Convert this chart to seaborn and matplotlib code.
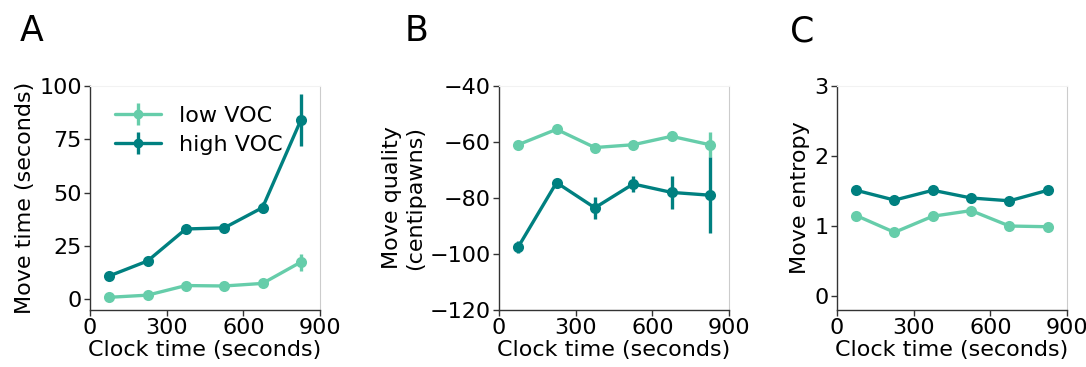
import numpy as np
import pandas as pd
import seaborn as sns
import matplotlib.pyplot as plt

clock = [75, 225, 375, 525, 675, 825]
groups = ['low VOC', 'high VOC']
colors = {'low VOC': '#66cdaa', 'high VOC': '#008080'}

# panel A: move time
time_low = [1.0, 2.0, 6.5, 6.3, 7.5, 17.5]
time_low_err = [0.8, 0.8, 1.0, 0.8, 1.2, 4.0]
time_high = [11.0, 18.0, 33.0, 33.5, 43.0, 84.0]
time_high_err = [1.0, 1.0, 1.2, 1.2, 2.5, 12.0]

# panel B: move quality
qual_low = [-61.0, -55.5, -62.0, -61.0, -58.0, -61.0]
qual_low_err = [0.8, 0.8, 1.0, 0.8, 1.0, 4.5]
qual_high = [-97.5, -74.5, -83.5, -75.0, -78.0, -79.0]
qual_high_err = [2.0, 1.0, 4.0, 3.0, 6.0, 13.5]

# panel C: move entropy
ent_low = [1.15, 0.91, 1.14, 1.22, 1.00, 0.99]
ent_low_err = [0.02, 0.02, 0.02, 0.02, 0.02, 0.02]
ent_high = [1.51, 1.37, 1.51, 1.40, 1.36, 1.51]
ent_high_err = [0.02, 0.02, 0.02, 0.02, 0.02, 0.02]

sns.set_style('white')
plt.rcParams['font.family'] = ['DejaVu Sans']
plt.rcParams['font.size'] = 16
plt.rcParams['text.color'] = 'black'
plt.rcParams['axes.labelcolor'] = 'black'
plt.rcParams['xtick.color'] = 'black'
plt.rcParams['ytick.color'] = 'black'

fig = plt.figure(figsize=(10.86, 3.67), dpi=100)
positions = [[0.0829, 0.155, 0.2118, 0.611],
             [0.4595, 0.155, 0.2118, 0.611],
             [0.7707, 0.155, 0.2118, 0.611]]
letter_x = [0.018, 0.373, 0.727]

panels = [
    (time_low, time_low_err, time_high, time_high_err, 'Move time (seconds)',
     (-5, 100), [0, 25, 50, 75, 100], 'A'),
    (qual_low, qual_low_err, qual_high, qual_high_err, 'Move quality\n(centipawns)',
     (-120, -40), [-120, -100, -80, -60, -40], 'B'),
    (ent_low, ent_low_err, ent_high, ent_high_err, 'Move entropy',
     (-0.2, 3), [0, 1, 2, 3], 'C'),
]

for pos, lx, (lo, lo_e, hi, hi_e, ylab, ylim, yticks, letter) in zip(positions, letter_x, panels):
    ax = fig.add_axes(pos)
    df = pd.DataFrame({
        'clock': clock * 2,
        'value': lo + hi,
        'err': lo_e + hi_e,
        'group': [groups[0]] * 6 + [groups[1]] * 6,
    })
    sns.lineplot(data=df, x='clock', y='value', hue='group', palette=colors,
                 marker='o', markersize=8, markeredgewidth=0, linewidth=2.4,
                 errorbar=None, legend=False, ax=ax)
    for g in groups:
        sub = df[df['group'] == g]
        ax.errorbar(sub['clock'], sub['value'], yerr=sub['err'], fmt='none',
                    ecolor=colors[g], elinewidth=2.4, capsize=0)
    if letter == 'A':
        leg_handles = []
        for g in groups:
            leg_handles.append(ax.errorbar([np.nan], [np.nan], yerr=[1], color=colors[g],
                                           marker='o', markersize=6, linewidth=2.4,
                                           elinewidth=2.4, label=g))
        ax.legend(handles=leg_handles, labels=groups, loc='upper left',
                  bbox_to_anchor=(0.02, 1.0), frameon=False, fontsize=16,
                  handlelength=2.1, handletextpad=0.8, labelspacing=0.4)
    ax.set_xlim(0, 900)
    ax.set_xticks([0, 300, 600, 900])
    ax.set_ylim(*ylim)
    ax.set_yticks(yticks)
    ax.set_xlabel('Clock time (seconds)', fontsize=16, labelpad=1)
    ax.set_ylabel(ylab, fontsize=16, labelpad=3)
    ax.tick_params(axis='both', labelsize=16, length=4, width=1, color='#333333',
                   left=True, bottom=True, pad=2)
    for s in ['left', 'bottom']:
        ax.spines[s].set_color('#333333')
        ax.spines[s].set_linewidth(1.0)
    ax.spines['right'].set_color('#cccccc')
    ax.spines['right'].set_linewidth(0.8)
    ax.spines['top'].set_color('#f2f2f2')
    ax.spines['top'].set_linewidth(0.8)
    fig.text(lx, 0.915, letter, fontsize=25, ha='left', va='center')

fig.savefig('out.png', dpi=100)
